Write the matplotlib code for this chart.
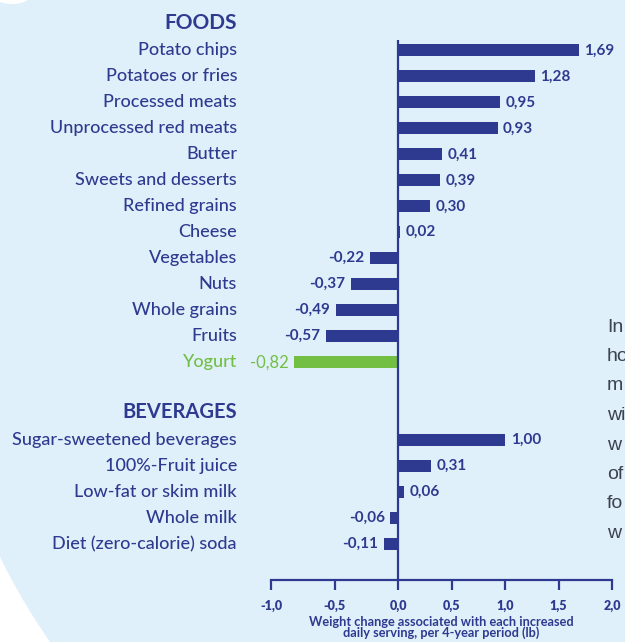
import numpy as np
import matplotlib
matplotlib.use("Agg")
import matplotlib.pyplot as plt
from matplotlib.patches import Circle, Ellipse
from matplotlib.transforms import blended_transform_factory

# data
foods = ['Potato chips', 'Potatoes or fries', 'Processed meats',
         'Unprocessed red meats', 'Butter', 'Sweets and desserts',
         'Refined grains', 'Cheese', 'Vegetables', 'Nuts', 'Whole grains',
         'Fruits', 'Yogurt']
food_vals = [1.69, 1.28, 0.95, 0.93, 0.41, 0.39, 0.30, 0.02,
             -0.22, -0.37, -0.49, -0.57, -0.82]
beverages = ['Sugar-sweetened beverages', '100%-Fruit juice',
             'Low-fat or skim milk', 'Whole milk', 'Diet (zero-calorie) soda']
bev_vals = [1.00, 0.31, 0.06, -0.06, -0.11]
highlight = 'Yogurt'

tick_vals = [-1.0, -0.5, 0.0, 0.5, 1.0, 1.5, 2.0]
tick_labels = ['-1,0', '-0,5', '0,0', '0,5', '1,0', '1,5', '2,0']
xlabel = 'Weight change associated with each increased\ndaily serving, per 4-year period (lb)'
side_text = ['In', 'ho', 'm', 'wi', 'w', 'of', 'fo', 'w']

NAVY = '#2e3a8f'
GREEN = '#72bf44'
BG = '#e0f0fa'
FONT = 'Lato'

fig = plt.figure(figsize=(6.25, 6.42), dpi=100, facecolor='white')

# background shapes (pixel -> inch coordinates)
H = 6.42
fig.patches.append(Circle((5.707, H - 2.785), 6.35, transform=fig.dpi_scale_trans,
                          facecolor=BG, edgecolor='none', zorder=-10))
fig.patches.append(Ellipse((0.12, H + 0.03), 0.34, 0.14, transform=fig.dpi_scale_trans,
                           facecolor='white', edgecolor='none', zorder=-9))

ax = fig.add_axes([0.4336, 0.0966, 0.5456, 0.8411])
ax.set_facecolor('none')

# negative side is drawn a bit wider than the positive side in the original
k = 1.187
fwd = lambda x: np.where(np.asarray(x) < 0, np.asarray(x) * k, np.asarray(x))
inv = lambda y: np.where(np.asarray(y) < 0, np.asarray(y) / k, np.asarray(y))
ax.set_xscale('function', functions=(fwd, inv))

labels = foods + beverages
vals = food_vals + bev_vals
ypos = list(range(len(foods))) + list(range(len(foods) + 2, len(foods) + 2 + len(beverages)))
colors = [GREEN if l == highlight else NAVY for l in labels]

ax.barh(ypos, vals, height=0.46, color=colors, zorder=3)
ax.axvline(0, color=NAVY, lw=1.6, zorder=4)

for y, v, lab, c in zip(ypos, vals, labels, colors):
    txt = f'{v:.2f}'.replace('.', ',')
    hl = lab == highlight
    ax.annotate(txt, (v, y), xytext=(4 if v >= 0 else -4, 0), textcoords='offset points',
                ha='left' if v >= 0 else 'right', va='center', color=c,
                fontsize=12 if hl else 11, fontweight='normal' if hl else 'bold', family=FONT)

trans = blended_transform_factory(fig.transFigure, ax.transData)
lx = 237 / 625
for y, lab, c in zip(ypos, labels, colors):
    ax.text(lx, y, lab, transform=trans, ha='right', va='center', color=c,
            fontsize=13, fontweight='medium', family=FONT)
ax.text(lx, -1.05, 'FOODS', transform=trans, ha='right', va='center', color=NAVY,
        fontsize=15, fontweight='bold', family=FONT)
ax.text(lx, len(foods) + 0.9, 'BEVERAGES', transform=trans, ha='right', va='center',
        color=NAVY, fontsize=14.5, fontweight='bold', family=FONT)

ax.set_xlim(-1.0, 2.0)
ax.set_ylim(20.38, -0.4)
ax.set_yticks([])
for s in ['left', 'right', 'top']:
    ax.spines[s].set_visible(False)
ax.spines['bottom'].set_color(NAVY)
ax.spines['bottom'].set_linewidth(1.6)
ax.set_xticks(tick_vals)
ax.set_xticklabels(tick_labels, fontweight='heavy', family=FONT, fontsize=9)
ax.tick_params(axis='x', direction='out', length=7, width=1.6, color=NAVY,
               labelcolor=NAVY, pad=7)
ax.set_xlabel(xlabel, color=NAVY, fontsize=9.2, fontweight='bold', family=FONT,
              linespacing=0.9, va='top')
ax.xaxis.set_label_coords((441 - 271) / 341, -0.066)

# cut-off paragraph on the right edge
for i, s in enumerate(side_text):
    fig.text(607 / 625, 1 - (327 + 29.5 * i) / 642, s, ha='left', va='center',
             color='#3b4252', fontsize=14, family='Liberation Sans')

fig.savefig('out.png', dpi=100, facecolor=fig.get_facecolor())
